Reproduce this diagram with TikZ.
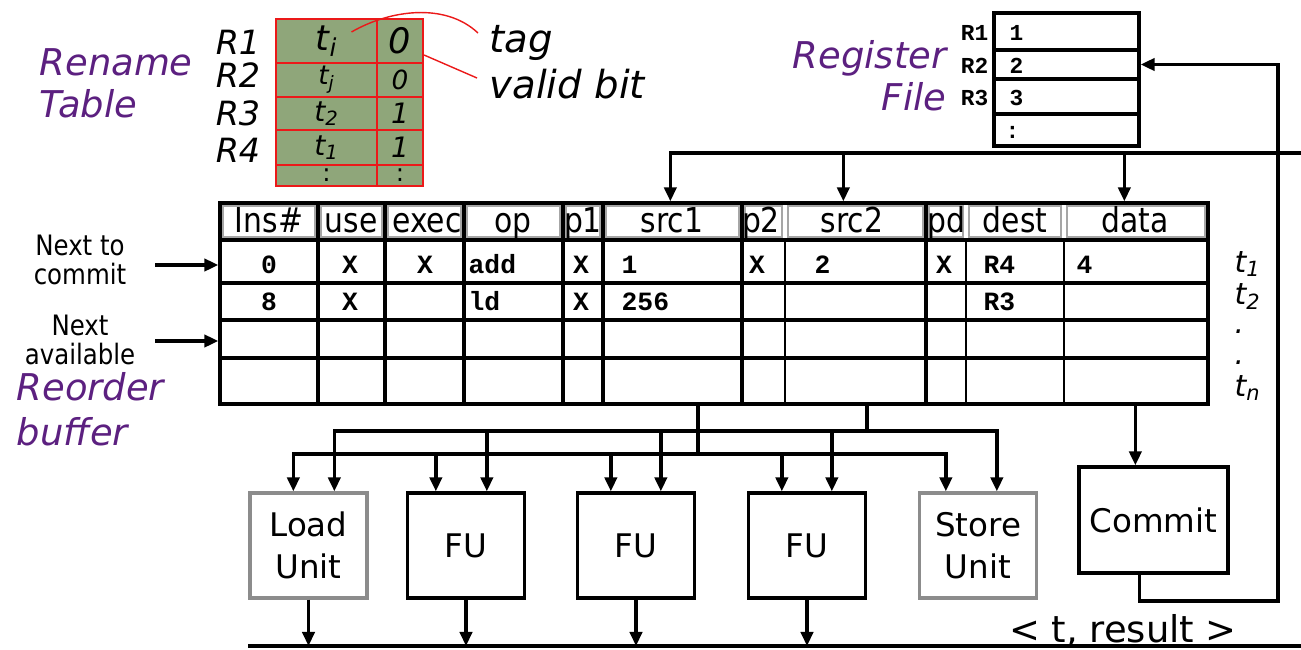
\documentclass[tikz,border=0pt]{standalone}
\usepackage{fontspec}
\setmainfont{DejaVu Sans}
\newfontfamily\condsans[FakeStretch=0.87]{DejaVu Sans}
\newfontfamily\codemono{Liberation Mono}
\usetikzlibrary{arrows.meta,positioning,fit,calc}
\definecolor{lblpurple}{RGB}{92,32,128}
\definecolor{rtgreen}{RGB}{143,166,122}
\definecolor{rtred}{RGB}{235,25,25}

\begin{document}
\begin{tikzpicture}[x=0.02cm, y=-0.02cm, line width=1.9pt,
  >={Triangle[length=8pt,width=7pt]},
  every node/.style={inner sep=0pt},
  title/.style={text=lblpurple, font=\fontsize{21}{25}\selectfont\itshape},
  reglbl/.style={font=\fontsize{19}{19}\selectfont\itshape, anchor=base},
  hd/.style={font=\condsans\fontsize{19.5}{20}\selectfont, anchor=base},
  ptrtxt/.style={font=\condsans\fontsize{16}{16.4}\selectfont, align=center},
  cellc/.style={font=\codemono\bfseries\fontsize{15}{15}\selectfont, anchor=base},
  cellw/.style={cellc, anchor=base west},
  tagtxt/.style={font=\fontsize{17}{17}\selectfont\itshape, anchor=base west},
  rtcell/.style={draw=rtred, fill=rtgreen, line width=1.2pt},
  rfrow/.style={draw, minimum width=2.9cm},
  rftxt/.style={font=\codemono\bfseries\fontsize{13}{13}\selectfont},
  unit/.style={draw, minimum width=2.34cm, minimum height=2.1cm, align=center,
    font=\fontsize{18.5}{24}\selectfont},
  gunit/.style={unit, draw=black!45}]
  \useasboundingbox (0,0) rectangle (1301,649);

  % rename table
  \node[title, anchor=base west] (rnl1) at (38,75) {Rename};
  \node[title, anchor=base west] (rnl2) at (38,117) {Table};
  \foreach \n/\yc/\bl/\h/\tg/\vb/\fs in {1/41/54/44/i/0/20, 2/80/87/34/j/0/15,
      3/113.5/125/33/2/1/16, 4/147.5/162/35/1/1/16} {
    \node[reglbl] (rl\n) at (238,\bl) {R\n};
    \node[rtcell, minimum width=2.02cm, minimum height=\h*0.02cm,
      font=\fontsize{\fs}{\fs}\selectfont\itshape] (rt\n) at (326.5,\yc) {t\textsubscript{\tg}};
    \node[rtcell, minimum width=0.92cm, minimum height=\h*0.02cm,
      font=\fontsize{\fs}{\fs}\selectfont\itshape] (rv\n) at (400,\yc) {\vb};
  }
  \node[rtcell, minimum width=2.02cm, minimum height=21*0.02cm, font=\fontsize{14}{14}\selectfont] (rt5) at (326.5,175.5) {:};
  \node[rtcell, minimum width=0.92cm, minimum height=21*0.02cm, font=\fontsize{14}{14}\selectfont] (rv5) at (400,175.5) {:};
  \node[font=\fontsize{22}{22}\selectfont\itshape, anchor=west] (tag) at (488,43) {tag};
  \node[font=\fontsize{22}{22}\selectfont\itshape, anchor=west] (vbit) at (488,84) {valid bit};
  \draw[rtred, line width=0.8pt] ($(rt1.center)+(25,-9)$) .. controls +(38,-22) and +(-33,-31) .. ([shift={(-10,-10)}]tag.west);
  \draw[rtred, line width=0.8pt] ($(rv1.east)+(0,14)$) -- ([shift={(-11,-6)}]vbit.west);

  % register file
  \node[title, anchor=base east] (rgl1) at (948,68) {Register};
  \node[title, anchor=base east] (rgl2) at (948,110) {File};
  \foreach \n/\yc/\h in {1/31.5/37, 2/64.5/29, 3/96.5/35} {
    \node[rfrow, minimum height=\h*0.02cm] (rf\n) at (1066.5,\yc) {};
    \node[rftxt, anchor=base west] (rfv\n) at (1008,\yc+9) {\n};
    \node[rftxt, anchor=base east] (rfl\n) at (990,\yc+9) {R\n};
  }
  \node[rfrow, minimum height=32*0.02cm] (rf4) at (1066.5,130) {};
  \node[rftxt, anchor=base west] (rfv4) at (1004,138) {:};

  % reorder buffer
  \node[fit={(220,203) (1208,404)}, draw] (rob) {};
  \foreach \a/\b in {220/318,318/385,385/464,464/563,563/603,603/742,742/785,785/926,926/966,966/1064,1064/1208}
    \draw[black!35, line width=0.6pt] (\a+3,206) rectangle (\b-3,237);
  \foreach \x/\t [count=\i] in {269/Ins\#,351/use,427/exec,513/op,583/p1,672/src1,761/p2,852/src2,946/pd,1015/dest,1135/data}
    \node[hd] (hd\i) at (\x,232) {\t};
  \foreach \y in {240,283,320,358} \draw (220,\y) -- (1208,\y);
  \foreach \x in {318,385,464,563,603,742,926} \draw (\x,203) -- (\x,404);
  \foreach \x in {785,966,1064} \draw[line width=1.4pt] (\x,240) -- (\x,404);
  \foreach \x/\t [count=\i] in {269/0,350/X,425/X,581/X,757/X,944/X} \node[cellc] (ra\i) at (\x,273) {\t};
  \foreach \x/\t [count=\i] in {467/add,620/1,813/2,982/R4,1075/4} \node[cellw] (rb\i) at (\x,273) {\t};
  \foreach \x/\t [count=\i] in {269/8,350/X,581/X} \node[cellc] (rc\i) at (\x,310) {\t};
  \foreach \x/\t [count=\i] in {467/ld,620/256,982/R3} \node[cellw] (rd\i) at (\x,310) {\t};
  \foreach \y/\t [count=\i] in {272/t\textsubscript{1},304/t\textsubscript{2},333/.,364/.,396/t\textsubscript{n}}
    \node[tagtxt] (tt\i) at (1233,\y) {\t};

  \node[ptrtxt] (nxc) at (80,260) {Next to\\commit};
  \node[ptrtxt] (nxa) at (80,340) {Next\\available};
  \coordinate (pc) at (155,265);
  \coordinate (pa) at (155,341);
  \draw[->] (pc) -- (pc -| rob.west);
  \draw[->] (pa) -- (pa -| rob.west);
  \node[title, anchor=base west] (rbl1) at (15,400) {Reorder};
  \node[title, anchor=base west] (rbl2) at (15,445) {buffer};

  % operand bus from the top
  \coordinate (tbr) at (1301,153);
  \draw[->] (tbr) -| ($(rob.north west)+(452,0)$);
  \foreach \dx in {625,906} {
    \path ($(rob.north west)+(\dx,0)$) coordinate (dt);
    \draw[->] (dt |- tbr) -- (dt);
  }

  % units
  \node[gunit] (ldu) at (308.5,545.5) {Load\\Unit};
  \node[unit] (fu1) at (466,545.5) {FU};
  \node[unit] (fu2) at (636,545.5) {FU};
  \node[unit] (fu3) at (807,545.5) {FU};
  \node[gunit] (stu) at (978,545.5) {Store\\Unit};
  \node[unit, minimum width=2.98cm, minimum height=2.12cm] (cmt) at (1153.5,520) {Commit};

  % dispatch buses
  \coordinate (busA) at (698,454);
  \coordinate (busB) at (867,431);
  \draw (busA |- rob.south) -- (busA);
  \draw (busB |- rob.south) -- (busB);
  \draw[->] (busA) -| ($(ldu.north west)+(45,0)$);
  \draw[->] (busA) -| ($(stu.north west)+(28,0)$);
  \draw[->] (busB) -| ($(ldu.north west)+(86,0)$);
  \draw[->] (busB) -| ($(stu.north west)+(79,0)$);
  \foreach \u/\a/\b in {fu1/30/81,fu2/35/85,fu3/35/85} {
    \path ($(\u.north west)+(\a,0)$) coordinate (da) ($(\u.north west)+(\b,0)$) coordinate (db);
    \draw[->] (da |- busA) -- (da);
    \draw[->] (db |- busB) -- (db);
  }

  % result bus
  \coordinate (rsl) at (248,646);
  \coordinate (rsr) at (1301,646);
  \draw (rsl) -- (rsr);
  \foreach \u in {ldu,fu1,fu2,fu3} \draw[->] (\u.south) -- (\u.south |- rsl);
  \node[font=\fontsize{21}{21}\selectfont, anchor=base] (res) at (1123,642) {< t, result >};

  % commit and write back
  \path ($(cmt.north west)+(58,0)$) coordinate (cin) ($(cmt.south west)+(62,0)$) coordinate (cout);
  \coordinate (wb) at (1278,601);
  \draw[->] (cin |- rob.south) -- (cin);
  \draw[->] (cout) |- (wb) |- (rf2.east);
\end{tikzpicture}
\end{document}
